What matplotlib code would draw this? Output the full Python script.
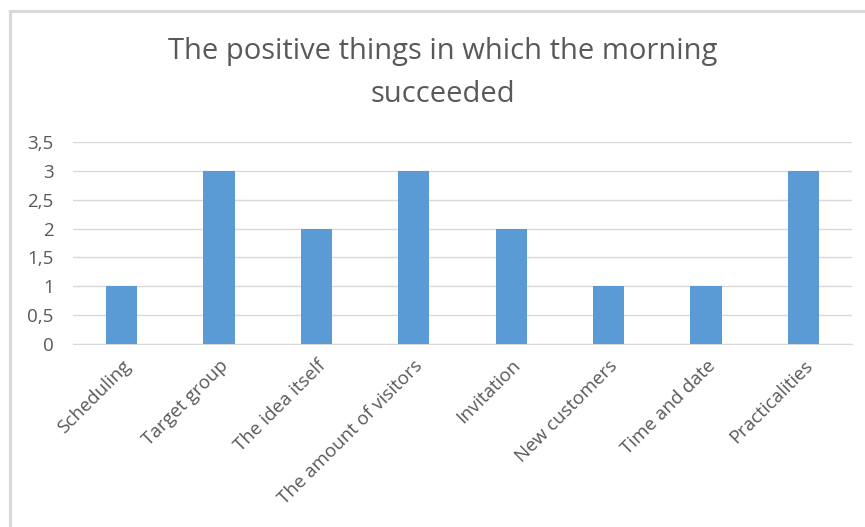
import matplotlib
matplotlib.use("Agg")
import matplotlib.pyplot as plt
from matplotlib.lines import Line2D
from matplotlib.ticker import FuncFormatter, MultipleLocator

categories = ["Scheduling", "Target group", "The idea itself", "The amount of visitors",
              "Invitation", "New customers", "Time and date", "Practicalities"]
values = [1, 3, 2, 3, 2, 1, 1, 3]

W, H = 865, 527
fig = plt.figure(figsize=(W / 100, H / 100), dpi=100)
fig.patch.set_facecolor("white")

# chart frame (top and left edges)
border = "#d9d9d9"
fig.add_artist(Line2D([10 / W, 1.0], [1 - 11 / H, 1 - 11 / H], color=border, lw=2.2,
                      transform=fig.transFigure))
fig.add_artist(Line2D([10 / W, 10 / W], [0, 1 - 11 / H], color=border, lw=2.2,
                      transform=fig.transFigure))

left, right, top, bottom = 73, 852, 142, 344
ax = fig.add_axes([left / W, 1 - bottom / H, (right - left) / W, (bottom - top) / H])

x = range(len(categories))
ax.bar(x, values, width=0.32, color="#5b9bd5", zorder=3)
ax.set_xlim(-0.5, len(categories) - 0.5)
ax.set_ylim(0, 3.5)
ax.yaxis.set_major_locator(MultipleLocator(0.5))
ax.yaxis.set_major_formatter(FuncFormatter(lambda v, _: f"{v:g}".replace(".", ",")))
ax.grid(axis="y", color="#d9d9d9", lw=1, zorder=0)
for s in ["top", "right", "left"]:
    ax.spines[s].set_visible(False)
ax.spines["bottom"].set_color("#d9d9d9")
ax.tick_params(axis="both", length=0, colors="#595959", labelsize=13.5)
ax.tick_params(axis="y", pad=14)
for lbl in ax.get_yticklabels():
    lbl.set_fontfamily("Open Sans")

ax.set_xticks(list(x))
ax.set_xticklabels(categories, rotation=45, ha="right", va="top", rotation_mode="anchor",
                   fontfamily="Open Sans", fontsize=13.5, color="#595959")
ax.tick_params(axis="x", pad=9)

fig.text(443 / W, 1 - 51 / H, "The positive things in which the morning",
         ha="center", va="center", fontsize=21, color="#595959", fontfamily="Open Sans")
fig.text(443 / W, 1 - 94 / H, "succeeded",
         ha="center", va="center", fontsize=21, color="#595959", fontfamily="Open Sans")

fig.savefig("out.png", dpi=100, facecolor="white")
